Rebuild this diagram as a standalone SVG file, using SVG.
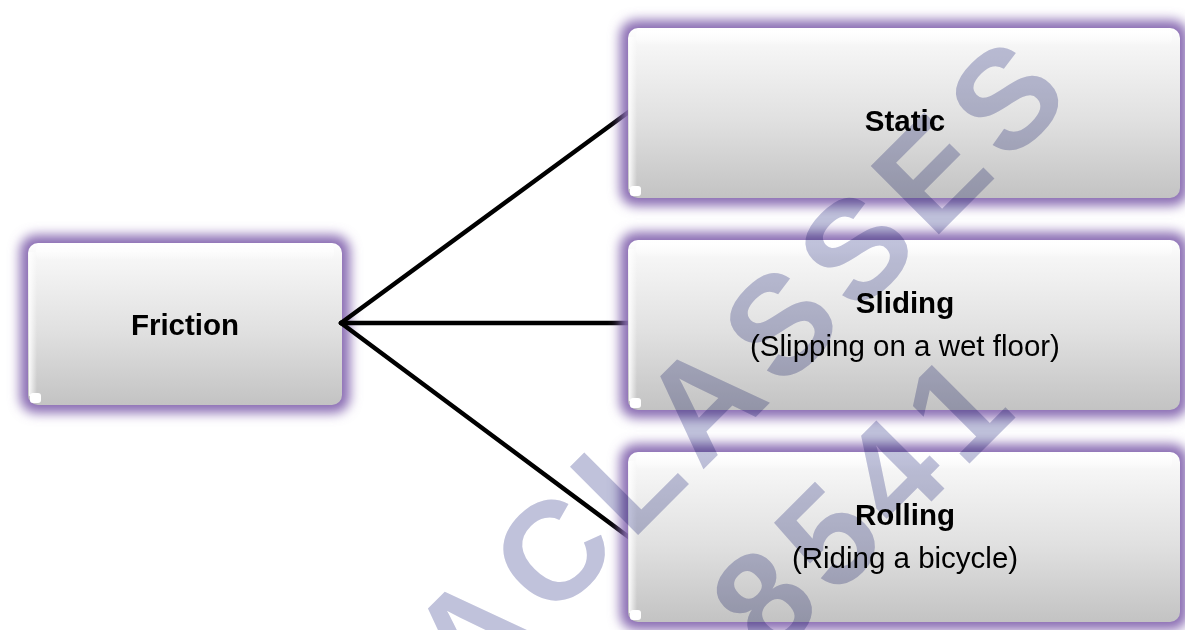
<svg xmlns="http://www.w3.org/2000/svg" width="1185" height="630" viewBox="0 0 1185 630">
<defs>
<style>
.lbl{font-family:"Liberation Sans",Arial,sans-serif;font-size:29.5px;fill:#000;text-anchor:middle}
.b{font-weight:bold}
.conn{stroke:#000;stroke-width:4.5;fill:none;stroke-linecap:round}
.glow{fill:#8a6db3;filter:url(#blur)}
.box{fill:url(#boxGrad)}
.hl{fill:url(#topHl)}
.lh{fill:url(#leftHl)}
.dot{fill:#fff}
.wm{font-family:"Liberation Sans",Arial,sans-serif;font-weight:bold;font-size:140px;letter-spacing:13px;fill:#c0c2db;mix-blend-mode:multiply}
</style>
<filter id="blur" x="-20%" y="-30%" width="140%" height="160%">
<feGaussianBlur stdDeviation="6"/>
</filter>
<linearGradient id="boxGrad" x1="0" y1="0" x2="0" y2="1">
<stop offset="0" stop-color="#ffffff"/>
<stop offset="0.1" stop-color="#f6f6f6"/>
<stop offset="0.55" stop-color="#e0e0e0"/>
<stop offset="1" stop-color="#c3c3c3"/>
</linearGradient>
<linearGradient id="topHl" x1="0" y1="0" x2="0" y2="1">
<stop offset="0" stop-color="#ffffff" stop-opacity="1"/>
<stop offset="1" stop-color="#ffffff" stop-opacity="0"/>
</linearGradient>
<linearGradient id="leftHl" x1="0" y1="0" x2="1" y2="0">
<stop offset="0" stop-color="#ffffff" stop-opacity="0.9"/>
<stop offset="1" stop-color="#ffffff" stop-opacity="0"/>
</linearGradient>
</defs>
<rect width="1185" height="630" fill="#ffffff"/>

<g id="node-friction">
<rect class="glow" x="20" y="235" width="330" height="178" rx="16"/>
<rect class="box" x="28" y="243" width="314" height="162" rx="10"/>
<rect class="hl" x="36" y="244" width="298" height="16" rx="6"/>
<rect class="lh" x="29" y="252" width="8" height="144"/>
<rect class="dot" x="30" y="393" width="11" height="10" rx="3"/>
<text class="lbl b" x="185" y="335">Friction</text>
</g>

<g id="connectors">
<path class="conn" d="M341,323 L630,111"/>
<path class="conn" d="M341,323 L630,323"/>
<path class="conn" d="M341,323 L630,538"/>
</g>

<g id="node-static">
<rect class="glow" x="620" y="20" width="568" height="186" rx="16"/>
<rect class="box" x="628" y="28" width="552" height="170" rx="10"/>
<rect class="hl" x="636" y="29" width="536" height="16" rx="6"/>
<rect class="lh" x="629" y="37" width="8" height="152"/>
<rect class="dot" x="630" y="186" width="11" height="10" rx="3"/>
<text class="lbl b" x="905" y="131">Static</text>
</g>

<g id="node-sliding">
<rect class="glow" x="620" y="232" width="568" height="186" rx="16"/>
<rect class="box" x="628" y="240" width="552" height="170" rx="10"/>
<rect class="hl" x="636" y="241" width="536" height="16" rx="6"/>
<rect class="lh" x="629" y="249" width="8" height="152"/>
<rect class="dot" x="630" y="398" width="11" height="10" rx="3"/>
<text class="lbl b" x="905" y="313">Sliding</text>
<text class="lbl" x="905" y="356">(Slipping on a wet floor)</text>
</g>

<g id="node-rolling">
<rect class="glow" x="620" y="444" width="568" height="186" rx="16"/>
<rect class="box" x="628" y="452" width="552" height="170" rx="10"/>
<rect class="hl" x="636" y="453" width="536" height="16" rx="6"/>
<rect class="lh" x="629" y="461" width="8" height="152"/>
<rect class="dot" x="630" y="610" width="11" height="10" rx="3"/>
<text class="lbl b" x="905" y="525">Rolling</text>
<text class="lbl" x="905" y="568">(Riding a bicycle)</text>
</g>

<g id="watermark" transform="translate(550.7,622.1) rotate(-45)">
<text class="wm" x="-116" y="0">A <tspan x="0">CLASSES</tspan></text>
<text class="wm" x="127" y="184">8541</text>
</g>
</svg>
